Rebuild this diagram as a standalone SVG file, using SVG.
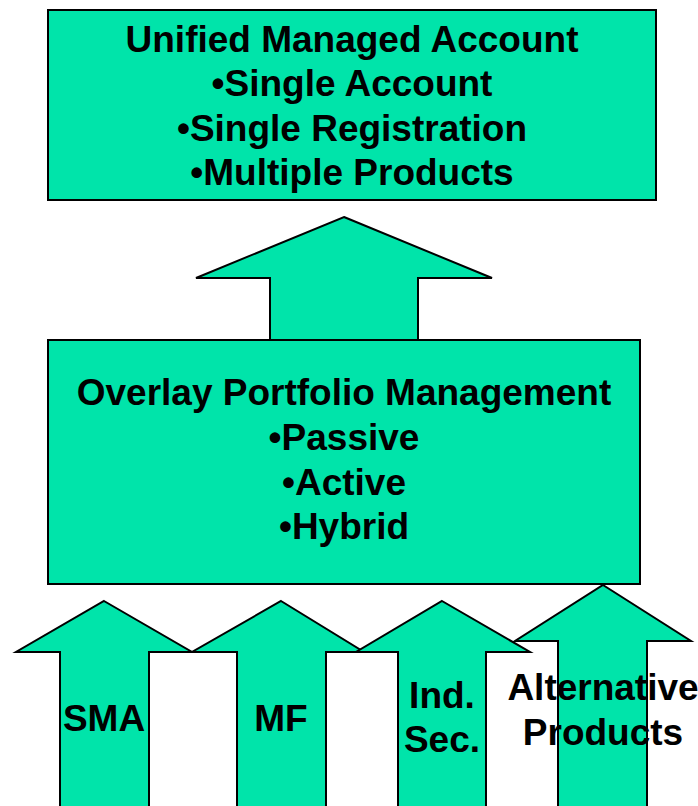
<svg xmlns="http://www.w3.org/2000/svg" width="698" height="806" viewBox="0 0 698 806">
  <style>
    .shape { fill: #00E4AA; stroke: #000; stroke-width: 2; stroke-linejoin: miter; }
    .label { font-family: "Liberation Sans", Arial, sans-serif; font-weight: bold; font-size: 37px; fill: #000; text-anchor: middle; }
  </style>
  <rect width="698" height="806" fill="#fff"/>

  <!-- Top box -->
  <g id="uma">
    <rect class="shape" x="48" y="10" width="608" height="190"/>
    <text class="label" x="352" y="52">Unified Managed Account</text>
    <text class="label" x="352" y="96">•Single Account</text>
    <text class="label" x="352" y="141">•Single Registration</text>
    <text class="label" x="352" y="185">•Multiple Products</text>
  </g>

  <!-- Connectors: block arrows -->
  <g id="connectors">
    <polygon id="arrow-overlay-uma" class="shape" points="344,217 492,278 418,278 418,340 270,340 270,278 196,278"/>
  </g>

  <!-- Middle box -->
  <g id="overlay">
    <rect class="shape" x="48" y="340" width="592" height="244"/>
    <text class="label" x="344" y="405">Overlay Portfolio Management</text>
    <text class="label" x="344" y="450">•Passive</text>
    <text class="label" x="344" y="495">•Active</text>
    <text class="label" x="344" y="539">•Hybrid</text>
  </g>

  <!-- Product arrows -->
  <g id="sma">
    <polygon class="shape" points="104,601 192,652 149,652 149,808 60,808 60,652 16,652"/>
  </g>
  <g id="mf">
    <polygon class="shape" points="281,601 364,652 326,652 326,808 237,808 237,652 192,652"/>
  </g>
  <g id="indsec">
    <polygon class="shape" points="442,601 530,652 486,652 486,808 398,808 398,652 356,652"/>
  </g>
  <g id="alt">
    <polygon class="shape" points="603,585 691,641 647,641 647,808 558,808 558,641 515,641"/>
  </g>

  <g id="product-labels">
    <text class="label" x="104" y="731">SMA</text>
    <text class="label" x="281" y="731">MF</text>
    <text class="label" x="442" y="708">Ind.</text>
    <text class="label" x="442" y="752">Sec.</text>
    <text class="label" x="603" y="700">Alternative</text>
    <text class="label" x="603" y="745">Products</text>
  </g>
</svg>
